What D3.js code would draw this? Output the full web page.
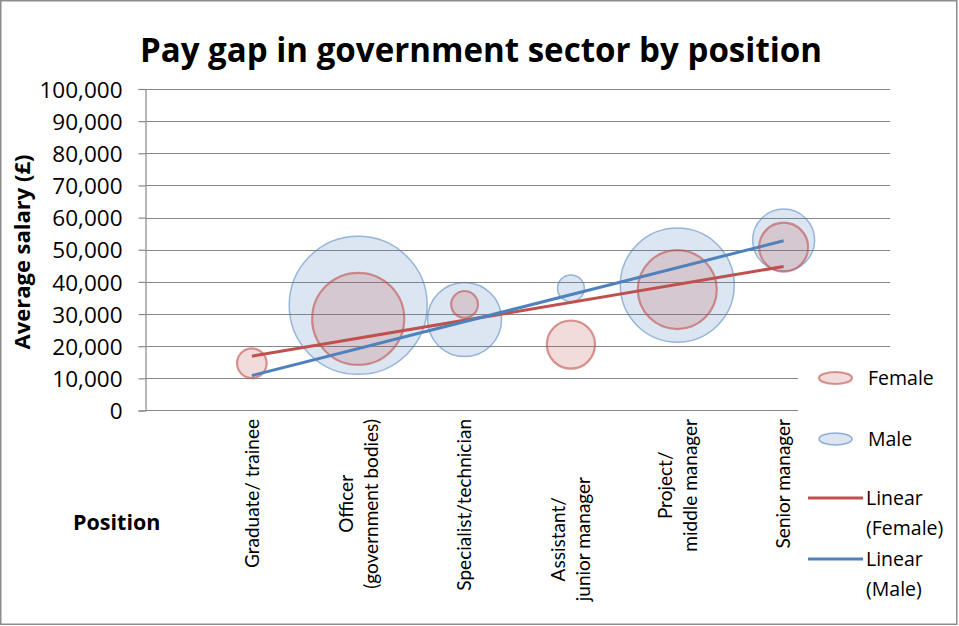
<!DOCTYPE html>
<html><head><meta charset="utf-8">
<script src="https://cdn.jsdelivr.net/npm/d3@7"></script>
<style>
body{margin:0;background:#fff}
svg{display:block}
text{font-family:"Open Sans","Noto Sans",sans-serif;fill:#000}
.cat{font-family:Lato,"Open Sans",sans-serif;white-space:pre}
</style>
</head><body>
<svg id="chart" width="959" height="626"></svg>
<script>
// ---- data ----
const categories = ["Graduate/ trainee","Officer (government bodies)","Specialist/technician","Assistant/ junior manager","Project/ middle manager","Senior manager"];
const categoryLines = [["Graduate/ trainee"],["Officer","(government bodies)"],["Specialist/technician"],["Assistant/\u00A0\u00A0\u00A0\u00A0\u00A0\u00A0\u00A0\u00A0\u00A0\u00A0\u00A0\u00A0","junior manager\u00A0\u00A0\u00A0\u00A0\u00A0\u00A0\u00A0\u00A0\u00A0\u00A0\u00A0\u00A0"],["Project/","middle manager"],["Senior manager"]];
const categoryX = [1,2,3,4,5,6];
const femaleSalary = [14700, 28500, 33000, 20500, 37600, 50800];
const maleSalary   = [0, 32700, 28300, 38000, 39000, 53000];
const femaleSize = [22, 212, 18, 58, 156, 60];
const maleSize   = [0, 476, 137, 18, 325, 96];
const yTicks = [0,10000,20000,30000,40000,50000,60000,70000,80000,90000,100000];
const seriesNames = ["Female","Male"];
const trendNames = [["Linear","(Female)"],["Linear","(Male)"]];
const titleText = "Pay gap in government sector by position";
const yTitle = "Average salary (£)";
const xTitle = "Position";

// ---- layout ----
const svg = d3.select("#chart");
const W = 959, H = 626;
const red = "#C0504D", blue = "#4F81BD";

svg.append("rect").attr("x",0.75).attr("y",0.75).attr("width",W-3).attr("height",H-2.5)
  .attr("fill","#fff").attr("stroke","#8c8c8c").attr("stroke-width",1.5);

const x = d3.scaleLinear().domain([0,7]).range([145.5, 890]);
const y = d3.scaleLinear().domain([0,100000]).range([410.5, 89]);
const r = d3.scaleSqrt().domain([0, d3.max(maleSize.concat(femaleSize))]).range([0, 69]);

// gridlines
svg.append("g").selectAll("line").data(yTicks.filter(d=>d>0)).join("line")
  .attr("x1",x(0)).attr("x2",x(7)).attr("y1",d=>Math.round(y(d))+0.5).attr("y2",d=>Math.round(y(d))+0.5)
  .attr("stroke","#868686").attr("stroke-width",1.2);

// y axis
const yAxis = svg.append("g").attr("transform",`translate(${x(0)},0)`)
  .call(d3.axisLeft(y).tickValues(yTicks).tickFormat(d3.format(",")).tickSizeOuter(0).tickSize(7).tickPadding(16));
yAxis.select(".domain").attr("stroke","#868686").attr("stroke-width",1.2);
yAxis.selectAll(".tick line").attr("stroke","#868686").attr("stroke-width",1.2);
yAxis.selectAll(".tick text").style("font-size","22.5px").attr("fill","#000").attr("dy","0.36em");

// x axis line
svg.append("line").attr("x1",x(0)).attr("x2",x(7)).attr("y1",y(0)).attr("y2",y(0))
  .attr("stroke","#868686").attr("stroke-width",1.2);

// bubbles
const maleData = categoryX.map((c,i)=>({x:c,y:maleSalary[i],s:maleSize[i]}));
const femaleData = categoryX.map((c,i)=>({x:c,y:femaleSalary[i],s:femaleSize[i]}));
svg.append("g").selectAll("circle").data(maleData.filter(d=>d.s>0)).join("circle")
  .attr("cx",d=>x(d.x)).attr("cy",d=>y(d.y)).attr("r",d=>r(d.s))
  .attr("fill",blue).attr("fill-opacity",0.2).attr("stroke",blue).attr("stroke-opacity",0.55).attr("stroke-width",1.5);
svg.append("g").selectAll("circle").data(femaleData.filter(d=>d.s>0)).join("circle")
  .attr("cx",d=>x(d.x)).attr("cy",d=>y(d.y)).attr("r",d=>r(d.s))
  .attr("fill",red).attr("fill-opacity",0.2).attr("stroke",red).attr("stroke-opacity",0.6).attr("stroke-width",2.2);

// trend lines (least squares)
function linReg(xs, ys){
  const mx=d3.mean(xs), my=d3.mean(ys);
  const sxy=d3.sum(xs,(v,i)=>(v-mx)*(ys[i]-my)), sxx=d3.sum(xs,v=>(v-mx)*(v-mx));
  const b=sxy/sxx; return v=>my+b*(v-mx);
}
const ext = d3.extent(categoryX);
[[femaleSalary,red],[maleSalary,blue]].forEach(([ys,col])=>{
  const f = linReg(categoryX, ys);
  svg.append("line").attr("x1",x(ext[0])).attr("y1",y(f(ext[0]))).attr("x2",x(ext[1])).attr("y2",y(f(ext[1])))
    .attr("stroke",col).attr("stroke-width",3);
});

// category labels (rotated)
const labTop = 419, lineGap = 25;
categoryLines.forEach((lines,i)=>{
  const g = svg.append("g").attr("transform",`translate(${x(categoryX[i])},${labTop}) rotate(-90)`);
  const n = lines.length;
  const ts = lines.map((t,j)=>g.append("text").attr("class","cat").text(t).style("font-size","19px")
    .attr("text-anchor","middle").attr("y",(j-(n-1)/2)*lineGap).attr("dy","0.36em"));
  const maxLen = d3.max(ts,t=>t.node().getComputedTextLength());
  ts.forEach(t=>t.attr("x",-maxLen/2));
});

// legend (white box overlapping plot)
const lg = svg.append("g");
lg.append("rect").attr("x",798).attr("y",356).attr("width",158).attr("height",262).attr("fill","#fff");
const legY = [378, 439];
seriesNames.forEach((nm,i)=>{
  const col = i===0?red:blue;
  lg.append("ellipse").attr("cx",835.5).attr("cy",legY[i]).attr("rx",16.5).attr("ry",6)
    .attr("fill",col).attr("fill-opacity",0.2).attr("stroke",col).attr("stroke-opacity",0.6).attr("stroke-width",i===0?2.2:1.5);
  lg.append("text").attr("x",868).attr("y",legY[i]).attr("dy","0.36em").style("font-size","19.5px").text(nm);
});
const trY = [498, 559];
trendNames.forEach((lines,i)=>{
  const col = i===0?red:blue;
  lg.append("line").attr("x1",808).attr("x2",863).attr("y1",trY[i]).attr("y2",trY[i]).attr("stroke",col).attr("stroke-width",3);
  lines.forEach((t,j)=>lg.append("text").attr("x",866).attr("y",trY[i]+j*30).attr("dy","0.36em").style("font-size","19.5px").text(t));
});

// titles
const tt = svg.append("text").attr("x",481).attr("y",62).attr("text-anchor","middle")
  .style("font-size","32px").style("font-weight","bold").text(titleText);
const tw = tt.node().getComputedTextLength();
tt.style("font-size",(32*682/tw).toFixed(1)+"px");

svg.append("text").attr("transform","translate(30,252) rotate(-90)").attr("text-anchor","middle")
  .style("font-size","22px").style("font-weight","bold").text(yTitle);
svg.append("text").attr("x",73).attr("y",530).style("font-size","21.5px").style("font-weight","bold").text(xTitle);
</script>
</body></html>
